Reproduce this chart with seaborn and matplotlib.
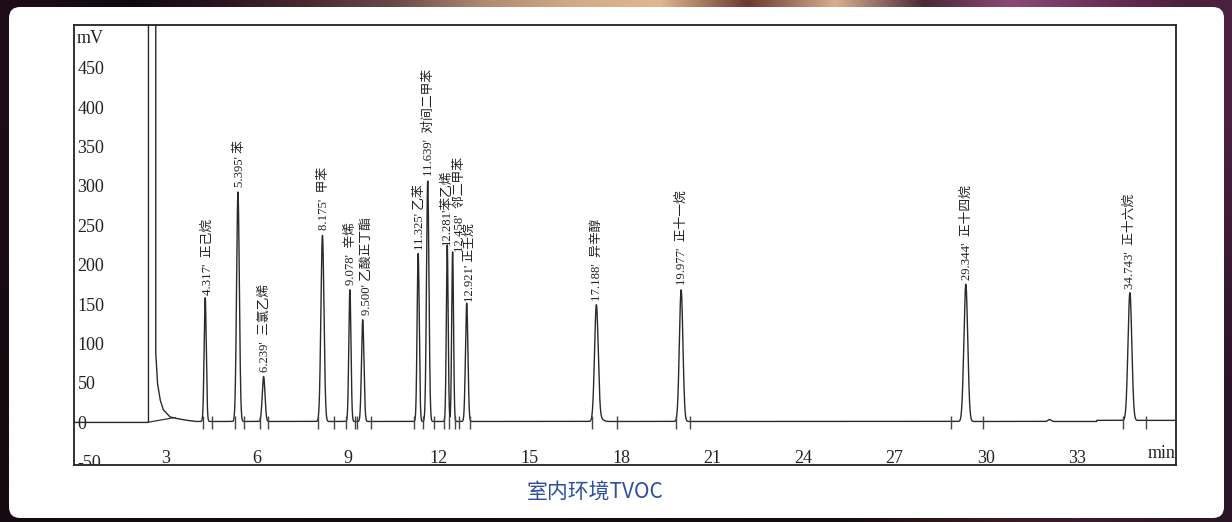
import numpy as np
import matplotlib
matplotlib.use("Agg")
import matplotlib.pyplot as plt
import seaborn as sns
from matplotlib.patches import FancyBboxPatch
from matplotlib.colors import to_rgb

# ---------------- data ----------------
peak_times = [4.317, 5.395, 6.239, 8.175, 9.078, 9.500, 11.325, 11.639,
              12.281, 12.458, 12.921, 17.188, 19.977, 29.344, 34.743]
peak_heights = [157, 291, 57, 236, 167, 129, 213, 305,
                224, 215, 150, 146, 167, 174, 162]
peak_sigmas = [0.035, 0.045, 0.045, 0.05, 0.035, 0.04, 0.035, 0.04,
               0.03, 0.03, 0.04, 0.06, 0.058, 0.063, 0.063]
peak_labels = ["4.317'  正己烷", "5.395' 苯", "6.239'  三氯乙烯", "8.175'  甲苯",
               "9.078'  辛烯", "9.500' 乙酸正丁酯", "11.325' 乙苯",
               "11.639'  对间二甲苯", "12.281'苯乙烯", "12.458'  邻二甲苯",
               "12.921' 正壬烷", "17.188'  异辛醇", "19.977'  正十一烷",
               "29.344'  正十四烷", "34.743'  正十六烷"]

# small features on the baseline
minor_times = [17.30, 32.10]
minor_heights = [4.0, 2.5]
minor_sigmas = [0.10, 0.05]
baseline_level = 1.2
baseline_step_time = 33.65
baseline_step_level = 2.6

# solvent peak (off scale) and its tail
solvent_t = [0.0, 2.45, 2.45, 2.69, 2.69, 2.75, 2.84, 2.94, 3.16, 3.38, 3.66, 4.0]
solvent_v = [0.0, 0.0, 600, 600, 88, 49, 28, 16, 7, 5, 3, 1.2]
solvent_base_t = [2.41, 3.33]
solvent_base_v = [0.0, 6.3]

# peak start / end markers
marker_times = [4.26, 4.54, 5.30, 5.61, 6.13, 6.38, 8.04, 8.54, 8.94, 9.25,
                9.31, 9.78, 11.19, 11.48, 11.83, 12.18, 12.35, 12.54, 12.68,
                13.03, 17.06, 17.86, 19.80, 20.27, 28.85, 29.92, 34.50, 35.27]

x_ticks = [3, 6, 9, 12, 15, 18, 21, 24, 27, 30, 33]
y_ticks = [-50, 0, 50, 100, 150, 200, 250, 300, 350, 400, 450]
x_limits = (0.0, 36.26)
y_limits = (-54, 504)
y_unit = "mV"
x_unit = "min"
caption = "室内环境TVOC"

# label placement (layout only, in pixels relative to the peak apex)
label_dx_px = [2, 2, 1, 1.5, 1, 4, 2, 1.5, -0.5, 7, 3, 1, 0, 1, -0.5]
label_dy_px = [4, 6, 5, 6, 6, 6, 4, 6, 1, 1, 2, 6, 6, 5, 6]

# ---------------- build the trace ----------------
t = np.arange(4.0, 36.3, 0.002)
v = np.where(t > baseline_step_time, baseline_step_level, baseline_level).astype(float)
for pt, ph, ps in zip(peak_times, peak_heights, peak_sigmas):
    v += ph * np.exp(-0.5 * ((t - pt) / ps) ** 2)
for pt, ph, ps in zip(minor_times, minor_heights, minor_sigmas):
    v += ph * np.exp(-0.5 * ((t - pt) / ps) ** 2)
all_t = np.concatenate([solvent_t, t])
all_v = np.concatenate([solvent_v, v])

# ---------------- figure ----------------
sns.set_theme(style="white")
serif = ["Liberation Serif", "Noto Sans CJK SC"]
plt.rcParams["font.family"] = serif

W, H = 1232, 522
fig = plt.figure(figsize=(W / 100, H / 100), dpi=100)

# dark page background with a white rounded panel
bg = fig.add_axes([0, 0, 1, 1], zorder=-10)
top_cols = ["#1c0c18", "#100810", "#2a1420", "#4a2a30", "#6a4a48", "#b08a70",
            "#d0aa88", "#e0b890", "#6a3a30", "#d8b090", "#4a2838", "#8a4a78",
            "#6a3058", "#4a2040"]
bot_cols = ["#140a10"] * 10 + ["#2a1418", "#3a1a22", "#3a1a30", "#2a1428"]
grad = np.array([[to_rgb(c) for c in top_cols], [to_rgb(c) for c in bot_cols]])
bg.imshow(grad, aspect="auto", extent=[0, 1, 0, 1], interpolation="bilinear")
bg.set_axis_off()
panel = FancyBboxPatch((9 / W, 4 / H), (1224 - 9) / W, (518 - 7) / H,
                       boxstyle="round,pad=0,rounding_size=0.009",
                       mutation_aspect=W / H,
                       transform=fig.transFigure, facecolor="white",
                       edgecolor="none", zorder=-5)
fig.patches.append(panel)

ax = fig.add_axes([74 / W, 1 - 465 / H, (1176 - 74) / W, (465 - 25) / H])
ax.set_facecolor("white")

sns.lineplot(x=all_t, y=all_v, sort=False, estimator=None, color="#2a2a2a",
             linewidth=1.0, ax=ax)
ax.plot(solvent_base_t, solvent_base_v, color="#333333", linewidth=0.9)
ax.vlines(marker_times, -8, 8, color="#444444", linewidth=1.0)

px2pt = 72 / 100
for pt, ph, lab, dx, dy in zip(peak_times, peak_heights, peak_labels,
                               label_dx_px, label_dy_px):
    ax.annotate(lab, xy=(pt, ph), xytext=(dx * px2pt, dy * px2pt),
                textcoords="offset points", rotation=90, ha="center",
                va="bottom", fontsize=9.2, color="#222222", family=serif)

ax.set_xlim(*x_limits)
ax.set_ylim(*y_limits)
ax.set_xticks(x_ticks)
ax.set_xticklabels([str(x) for x in x_ticks])
ax.set_yticks(y_ticks)
ax.set_yticklabels([str(y) for y in y_ticks])
ax.set_xlabel("")
ax.set_ylabel("")

ax.tick_params(axis="x", direction="in", length=5, width=1.0, pad=1.5,
               labelsize=13, colors="#222222")
ax.tick_params(axis="y", direction="in", length=4, width=1.0, pad=-2.5,
               labelsize=13, colors="#222222")
for lab in ax.get_xticklabels():
    lab.set_va("bottom")
for lab in ax.get_yticklabels():
    lab.set_ha("left")
    lab.set_clip_on(True)
    lab.set_clip_box(ax.bbox)

for s in ax.spines.values():
    s.set_visible(True)
    s.set_color("#222222")
    s.set_linewidth(1.3)

ax.text(0.0027, 0.969, y_unit, transform=ax.transAxes, ha="left", va="center",
        fontsize=13, color="#222222", family=serif)
ax.text(1.0, 0.025, x_unit, transform=ax.transAxes, ha="right", va="center",
        fontsize=13, color="#222222", family=serif)

fig.text(0.483, 0.0556, caption, ha="center", va="center", fontsize=15,
         color="#2f4ea0", family=["Noto Sans CJK SC", "DejaVu Sans"])

fig.savefig("out.png", dpi=100)
